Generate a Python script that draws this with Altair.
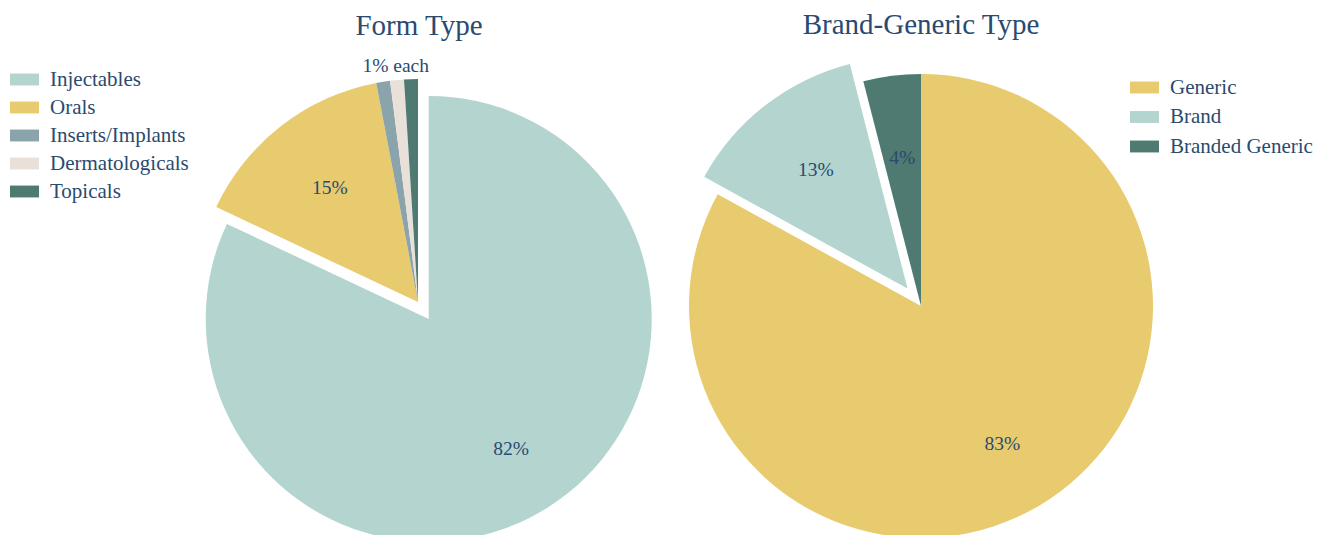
import altair as alt
import pandas as pd

# ---- data ----
form_names = ["Injectables", "Orals", "Inserts/Implants", "Dermatologicals", "Topicals"]
form_values = [82, 15, 1, 1, 1]
form_text = ["82%", "15%", "", "1% each", ""]

brand_names = ["Generic", "Brand", "Branded Generic"]
brand_values = [83, 13, 4]
brand_text = ["83%", "13%", "4%"]

form_colors = ["#B3D4CF", "#E8CB6F", "#8BA3AB", "#E8E0D9", "#4E7A72"]
brand_colors = ["#E8CB6F", "#B3D4CF", "#4E7A72"]

FONT = "Liberation Serif"
TEXT = "#2A4A6F"
SWATCH = "M-1,-0.41H1V0.41H-1Z"


def make_df(names, values, texts):
    return pd.DataFrame({"name": names, "value": values, "text": texts,
                         "order": list(range(len(names)))})


def pie(df, names, colors, cx, cy, R, pulled, pull, lx, ly, rowpad, title, tx, ty):
    base = (
        alt.Chart(df)
        .transform_window(cum="sum(value)", sort=[alt.SortField("order")])
        .transform_joinaggregate(total="sum(value)")
        .transform_calculate(
            a0="2*PI*(datum.cum - datum.value)/datum.total",
            a1="2*PI*datum.cum/datum.total",
        )
        .transform_calculate(
            mid="(datum.a0 + datum.a1)/2",
            d=f"datum.name == '{pulled}' ? {pull} : 0",
        )
        .transform_calculate(
            px=f"{cx} + datum.d*sin(datum.mid)",
            py=f"{cy} - datum.d*cos(datum.mid)",
        )
    )
    arcs = base.mark_arc(outerRadius=R).encode(
        x=alt.X("px:Q", scale=None, axis=None),
        y=alt.Y("py:Q", scale=None, axis=None),
        theta=alt.Theta("a0:Q", scale=None),
        theta2="a1:Q",
        color=alt.Color(
            "name:N",
            scale=alt.Scale(domain=names, range=colors),
            legend=alt.Legend(
                title=None, orient="none", legendX=lx, legendY=ly,
                symbolType=SWATCH, symbolSize=841, symbolStrokeWidth=0,
                symbolOpacity=1,
                labelFont=FONT, labelFontSize=21, labelColor=TEXT,
                labelOffset=11, rowPadding=rowpad, labelLimit=400,
            ),
        ),
    )
    labels = (
        base.transform_filter("datum.text != ''")
        .transform_calculate(
            lr=f"indexof(datum.text, 'each') >= 0 ? {R}*1.063 : (datum.value > 50 ? {R}*0.69 : {R}*0.645)"
        )
        .transform_calculate(
            lxp="datum.px + datum.lr*sin(datum.mid)",
            lyp="datum.py - datum.lr*cos(datum.mid)",
        )
        .mark_text(font=FONT, fontSize=19.5, color=TEXT, align="center", baseline="middle")
        .encode(
            x=alt.X("lxp:Q", scale=None, axis=None),
            y=alt.Y("lyp:Q", scale=None, axis=None),
            text="text:N",
        )
    )
    ttl = (
        alt.Chart(pd.DataFrame({"t": [title]}))
        .mark_text(font=FONT, fontSize=29, color=TEXT, align="center", baseline="alphabetic")
        .encode(x=alt.value(tx), y=alt.value(ty), text="t:N")
    )
    return [arcs, labels, ttl]


form_df = make_df(form_names, form_values, form_text)
brand_df = make_df(brand_names, brand_values, brand_text)

left = pie(form_df, form_names, form_colors, 410, 294, 223, "Injectables", 20,
           2, 57, 3, "Form Type", 411, 27)
right = pie(brand_df, brand_names, brand_colors, 913, 298, 232, "Brand", 22,
            1122, 65, 4.5, "Brand-Generic Type", 913, 26)

chart = (
    alt.layer(*left, *right)
    .resolve_scale(color="independent")
    .properties(width=1322, height=527, autosize="none", padding=0)
    .configure_view(stroke=None)
)

chart.save("out.html", embed_options={"renderer": "svg", "actions": False})
